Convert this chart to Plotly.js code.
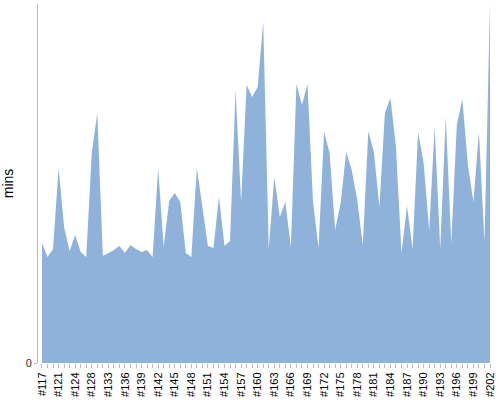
<!DOCTYPE html>
<html>
<head>
<meta charset="utf-8">
<script src="https://cdn.plot.ly/plotly-3.0.1.min.js"></script>
<style>
  html, body { margin: 0; padding: 0; background: #fff; }
  #chart { width: 500px; height: 400px; }
</style>
</head>
<body>
<div id="chart"></div>
<script>
// build ids
const categories = [
  "#117", "#118", "#120", "#121", "#122", "#123", "#124", "#125", "#127", "#128",
  "#130", "#132", "#133", "#134", "#135", "#136", "#137", "#138", "#139", "#140",
  "#141", "#142", "#143", "#144", "#145", "#146", "#147", "#148", "#149", "#150",
  "#151", "#152", "#153", "#154", "#155", "#156", "#157", "#158", "#159", "#160",
  "#161", "#162", "#163", "#164", "#165", "#166", "#167", "#168", "#169", "#170",
  "#171", "#172", "#173", "#174", "#175", "#176", "#177", "#178", "#179", "#180",
  "#181", "#182", "#183", "#184", "#185", "#186", "#187", "#188", "#189", "#190",
  "#191", "#192", "#193", "#194", "#195", "#196", "#197", "#198", "#199", "#200",
  "#201", "#202"
];

const mins = [
  12.0, 10.6, 11.4, 19.5, 13.6, 11.2, 12.8, 11.1, 10.6, 21.0,
  25.0, 10.7, 11.0, 11.3, 11.7, 11.0, 11.8, 11.4, 11.1, 11.3,
  10.6, 19.5, 11.6, 16.2, 17.0, 16.1, 11.0, 10.6, 19.5, 15.6,
  11.7, 11.5, 16.6, 11.7, 12.2, 27.3, 16.1, 27.8, 26.6, 27.6,
  34.1, 11.4, 18.6, 14.6, 16.1, 11.6, 27.9, 25.8, 27.9, 16.1,
  11.5, 23.1, 21.0, 13.3, 16.0, 21.1, 19.3, 16.3, 11.8, 23.2,
  21.1, 15.6, 25.0, 26.5, 21.6, 11.0, 15.7, 11.4, 23.1, 20.0,
  13.3, 23.6, 11.4, 24.6, 12.0, 23.8, 26.4, 19.8, 16.1, 23.1,
  12.1, 35.9
];

// label every third run
const tickLabels = categories.map((c, i) => (i % 3 === 0 ? c : ""));

const trace = {
  x: categories,
  y: mins,
  type: "scatter",
  mode: "lines",
  fill: "tozeroy",
  fillcolor: "rgb(143,178,218)",
  line: { width: 0, color: "rgb(143,178,218)" },
  hoverinfo: "x+y"
};

const layout = {
  width: 500,
  height: 400,
  margin: { l: 38, r: 10, t: 4, b: 37 },
  paper_bgcolor: "#fff",
  plot_bgcolor: "#fff",
  showlegend: false,
  font: { family: "Liberation Sans, Arial, sans-serif", color: "#000" },
  xaxis: {
    type: "category",
    range: [-0.72, 81],
    tickmode: "array",
    tickvals: categories,
    ticktext: tickLabels,
    tickangle: -90,
    ticks: "outside",
    ticklen: 4,
    tickcolor: "#bbb",
    showline: false,
    showgrid: false,
    zeroline: false,
    tickfont: { size: 11, color: "#000" }
  },
  yaxis: {
    range: [0, 35.9],
    tickmode: "array",
    tickvals: [0],
    ticktext: ["0"],
    ticks: "outside",
    ticklen: 3,
    tickcolor: "#bbb",
    showline: true,
    linecolor: "#bbb",
    linewidth: 1,
    showgrid: false,
    zeroline: false,
    tickfont: { size: 11, color: "#333" },
    title: { text: "mins", font: { size: 14, color: "#000" }, standoff: 10 }
  }
};

Plotly.newPlot("chart", [trace], layout, { displayModeBar: false, staticPlot: true });
</script>
</body>
</html>
